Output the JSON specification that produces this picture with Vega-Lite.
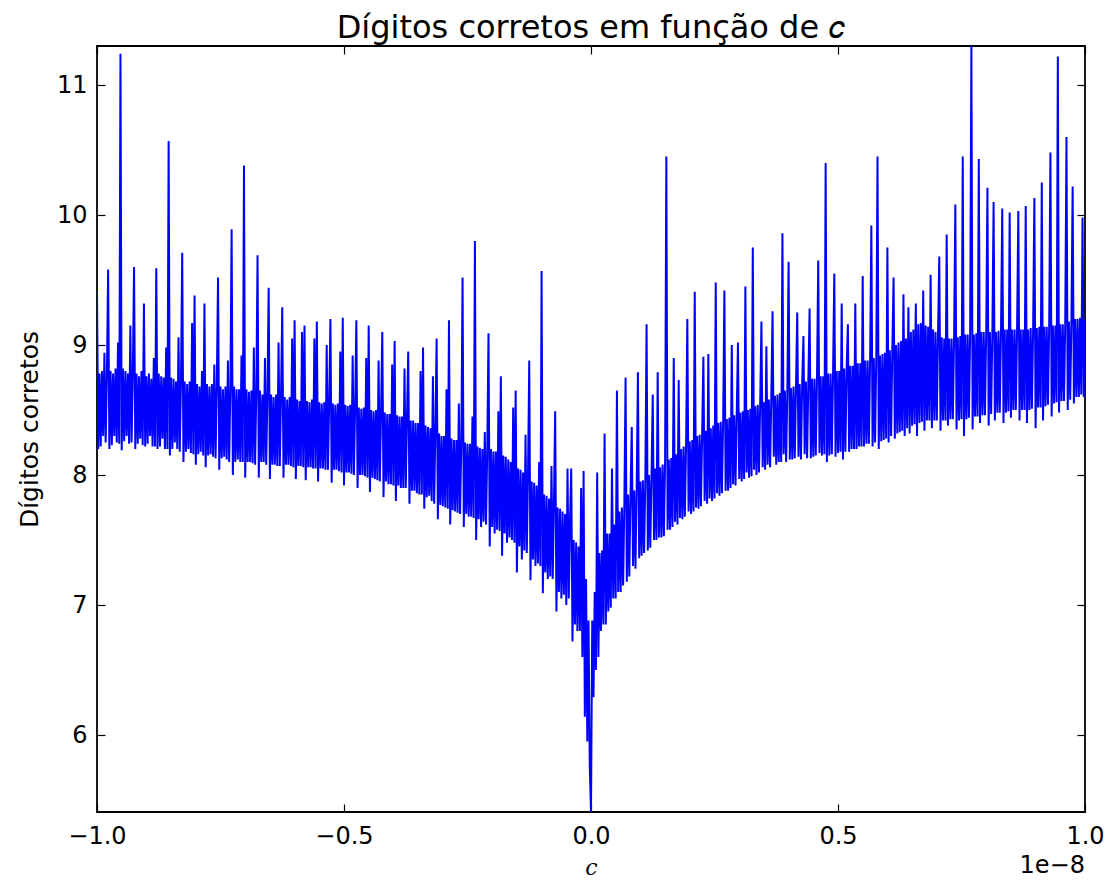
{
  "$schema": "https://vega.github.io/schema/vega-lite/v6.json",
  "width": 988,
  "height": 766,
  "autosize": "none",
  "padding": {"left": 97, "top": 46, "right": 25, "bottom": 71},
  "background": "white",
  "title": {"text": "Dígitos corretos em função de 𝑐", "font": "DejaVu Sans", "fontSize": 32, "fontWeight": "normal", "color": "black", "anchor": "middle", "offset": -2},
  "config": {
    "view": {"stroke": "black", "strokeWidth": 1.8},
    "axis": {"grid": false, "domain": false, "tickColor": "black", "tickWidth": 1.2, "tickSize": -8, "labelFont": "DejaVu Sans", "labelFontSize": 24, "labelColor": "black", "titleColor": "black", "labelFlush": false, "labelOverlap": false}
  },
  "data": {"values": [
{"c":-1.0,"d":9.42},{"c":-0.9975,"d":8.2},{"c":-0.995,"d":8.78},{"c":-0.9925,"d":8.22},{"c":-0.99,"d":8.8},{"c":-0.9875,"d":8.3},{"c":-0.985,"d":8.94},{"c":-0.9825,"d":8.25},{"c":-0.98,"d":8.76},
{"c":-0.9775,"d":9.58},{"c":-0.975,"d":8.2},{"c":-0.9725,"d":8.8},{"c":-0.97,"d":8.23},{"c":-0.9675,"d":8.78},{"c":-0.965,"d":8.3},{"c":-0.9625,"d":8.82},{"c":-0.96,"d":8.25},{"c":-0.9575,"d":9.02},{"c":-0.955,"d":8.24},
{"c":-0.9525,"d":11.24},{"c":-0.95,"d":8.19},{"c":-0.9475,"d":8.82},{"c":-0.945,"d":8.26},{"c":-0.9425,"d":8.8},{"c":-0.94,"d":8.3},{"c":-0.9375,"d":8.78},{"c":-0.935,"d":8.24},{"c":-0.9325,"d":9.15},{"c":-0.93,"d":8.25},{"c":-0.9275,"d":8.78},
{"c":-0.925,"d":9.6},{"c":-0.9225,"d":8.2},{"c":-0.92,"d":8.78},{"c":-0.9175,"d":8.24},{"c":-0.915,"d":8.76},{"c":-0.9125,"d":8.28},{"c":-0.91,"d":8.8},{"c":-0.9075,"d":8.23},
{"c":-0.905,"d":9.32},{"c":-0.9025,"d":8.22},{"c":-0.9,"d":8.76},{"c":-0.8975,"d":8.24},{"c":-0.895,"d":8.78},{"c":-0.8925,"d":8.3},{"c":-0.89,"d":8.74},{"c":-0.8875,"d":8.22},{"c":-0.885,"d":8.9},{"c":-0.8825,"d":8.22},
{"c":-0.88,"d":9.59},{"c":-0.8775,"d":8.2},{"c":-0.875,"d":8.78},{"c":-0.8725,"d":8.22},{"c":-0.87,"d":8.76},{"c":-0.8675,"d":8.28},{"c":-0.865,"d":8.75},{"c":-0.8625,"d":8.2},{"c":-0.86,"d":8.98},{"c":-0.8575,"d":8.2},
{"c":-0.855,"d":10.57},{"c":-0.8525,"d":8.15},{"c":-0.85,"d":8.75},{"c":-0.8475,"d":8.2},{"c":-0.845,"d":8.74},{"c":-0.8425,"d":8.25},{"c":-0.84,"d":8.72},{"c":-0.8375,"d":8.2},{"c":-0.835,"d":9.06},{"c":-0.8325,"d":8.18},{"c":-0.83,"d":8.72},
{"c":-0.8275,"d":9.71},{"c":-0.825,"d":8.1},{"c":-0.8225,"d":8.72},{"c":-0.82,"d":8.18},{"c":-0.8175,"d":8.7},{"c":-0.815,"d":8.2},{"c":-0.8125,"d":8.72},{"c":-0.81,"d":8.17},{"c":-0.8075,"d":9.17},{"c":-0.805,"d":8.16},
{"c":-0.8025,"d":9.38},{"c":-0.8,"d":8.08},{"c":-0.7975,"d":8.7},{"c":-0.795,"d":8.16},{"c":-0.7925,"d":8.68},{"c":-0.79,"d":8.18},{"c":-0.7875,"d":8.8},{"c":-0.785,"d":8.15},
{"c":-0.7825,"d":9.32},{"c":-0.78,"d":8.06},{"c":-0.7775,"d":8.7},{"c":-0.775,"d":8.15},{"c":-0.7725,"d":8.68},{"c":-0.77,"d":8.16},{"c":-0.7675,"d":8.7},{"c":-0.765,"d":8.14},{"c":-0.7625,"d":8.85},{"c":-0.76,"d":8.13},{"c":-0.7575,"d":8.68},
{"c":-0.755,"d":9.52},{"c":-0.7525,"d":8.04},{"c":-0.75,"d":8.68},{"c":-0.7475,"d":8.13},{"c":-0.745,"d":8.66},{"c":-0.7425,"d":8.14},{"c":-0.74,"d":8.68},{"c":-0.7375,"d":8.12},{"c":-0.735,"d":8.88},{"c":-0.7325,"d":8.1},{"c":-0.73,"d":8.66},
{"c":-0.7275,"d":9.89},{"c":-0.725,"d":8.0},{"c":-0.7225,"d":8.68},{"c":-0.72,"d":8.1},{"c":-0.7175,"d":8.66},{"c":-0.715,"d":8.12},{"c":-0.7125,"d":8.66},{"c":-0.71,"d":8.1},{"c":-0.7075,"d":8.92},{"c":-0.705,"d":8.1},
{"c":-0.7025,"d":10.38},{"c":-0.7,"d":7.98},{"c":-0.6975,"d":8.66},{"c":-0.695,"d":8.1},{"c":-0.6925,"d":8.64},{"c":-0.69,"d":8.1},{"c":-0.6875,"d":8.65},{"c":-0.685,"d":8.09},{"c":-0.6825,"d":8.98},{"c":-0.68,"d":8.08},{"c":-0.6775,"d":8.64},
{"c":-0.675,"d":9.69},{"c":-0.6725,"d":7.98},{"c":-0.67,"d":8.65},{"c":-0.6675,"d":8.1},{"c":-0.665,"d":8.62},{"c":-0.6625,"d":8.1},{"c":-0.66,"d":8.9},{"c":-0.6575,"d":8.08},{"c":-0.655,"d":8.62},
{"c":-0.6525,"d":9.44},{"c":-0.65,"d":7.97},{"c":-0.6475,"d":8.62},{"c":-0.645,"d":8.08},{"c":-0.6425,"d":8.6},{"c":-0.64,"d":8.08},{"c":-0.6375,"d":8.62},{"c":-0.635,"d":8.07},{"c":-0.6325,"d":9.02},{"c":-0.63,"d":8.07},{"c":-0.6275,"d":8.6},
{"c":-0.625,"d":9.29},{"c":-0.6225,"d":7.98},{"c":-0.62,"d":8.6},{"c":-0.6175,"d":8.08},{"c":-0.615,"d":8.58},{"c":-0.6125,"d":8.08},{"c":-0.61,"d":8.6},{"c":-0.6075,"d":8.07},{"c":-0.605,"d":9.05},{"c":-0.6025,"d":8.06},
{"c":-0.6,"d":9.19},{"c":-0.5975,"d":7.97},{"c":-0.595,"d":8.58},{"c":-0.5925,"d":8.07},{"c":-0.59,"d":8.57},{"c":-0.5875,"d":8.07},{"c":-0.585,"d":9.1},{"c":-0.5825,"d":8.06},
{"c":-0.58,"d":9.15},{"c":-0.5775,"d":7.96},{"c":-0.575,"d":8.57},{"c":-0.5725,"d":8.06},{"c":-0.57,"d":8.56},{"c":-0.5675,"d":8.06},{"c":-0.565,"d":8.58},{"c":-0.5625,"d":8.05},{"c":-0.56,"d":9.05},{"c":-0.5575,"d":8.05},
{"c":-0.555,"d":9.18},{"c":-0.5525,"d":7.95},{"c":-0.55,"d":8.56},{"c":-0.5475,"d":8.05},{"c":-0.545,"d":8.55},{"c":-0.5425,"d":8.05},{"c":-0.54,"d":8.56},{"c":-0.5375,"d":8.04},{"c":-0.535,"d":9.0},{"c":-0.5325,"d":8.04},{"c":-0.53,"d":8.55},
{"c":-0.5275,"d":9.2},{"c":-0.525,"d":7.94},{"c":-0.5225,"d":8.55},{"c":-0.52,"d":8.04},{"c":-0.5175,"d":8.54},{"c":-0.515,"d":8.04},{"c":-0.5125,"d":8.55},{"c":-0.51,"d":8.03},{"c":-0.5075,"d":8.95},{"c":-0.505,"d":8.02},
{"c":-0.5025,"d":9.21},{"c":-0.5,"d":7.92},{"c":-0.4975,"d":8.54},{"c":-0.495,"d":8.02},{"c":-0.4925,"d":8.53},{"c":-0.49,"d":8.02},{"c":-0.4875,"d":8.54},{"c":-0.485,"d":8.01},{"c":-0.4825,"d":8.92},{"c":-0.48,"d":8.0},{"c":-0.4775,"d":8.52},
{"c":-0.475,"d":9.19},{"c":-0.4725,"d":7.9},{"c":-0.47,"d":8.52},{"c":-0.4675,"d":8.0},{"c":-0.465,"d":8.51},{"c":-0.4625,"d":8.0},{"c":-0.46,"d":8.52},{"c":-0.4575,"d":7.99},{"c":-0.455,"d":8.9},{"c":-0.4525,"d":7.98},
{"c":-0.45,"d":9.15},{"c":-0.4475,"d":7.87},{"c":-0.445,"d":8.5},{"c":-0.4425,"d":7.98},{"c":-0.44,"d":8.49},{"c":-0.4375,"d":7.97},{"c":-0.435,"d":8.5},{"c":-0.4325,"d":7.96},{"c":-0.43,"d":8.88},{"c":-0.4275,"d":7.95},{"c":-0.425,"d":8.48},
{"c":-0.4225,"d":9.1},{"c":-0.42,"d":7.83},{"c":-0.4175,"d":8.48},{"c":-0.415,"d":7.95},{"c":-0.4125,"d":8.47},{"c":-0.41,"d":7.93},{"c":-0.4075,"d":8.47},{"c":-0.405,"d":7.93},{"c":-0.4025,"d":8.85},{"c":-0.4,"d":7.92},
{"c":-0.3975,"d":9.03},{"c":-0.395,"d":7.8},{"c":-0.3925,"d":8.46},{"c":-0.39,"d":7.92},{"c":-0.3875,"d":8.45},{"c":-0.385,"d":7.9},{"c":-0.3825,"d":8.45},{"c":-0.38,"d":7.9},{"c":-0.3775,"d":8.82},{"c":-0.375,"d":7.9},{"c":-0.3725,"d":8.44},
{"c":-0.37,"d":8.95},{"c":-0.3675,"d":7.78},{"c":-0.365,"d":8.42},{"c":-0.3625,"d":7.88},{"c":-0.36,"d":8.42},{"c":-0.3575,"d":7.88},{"c":-0.355,"d":8.4},{"c":-0.3525,"d":7.86},{"c":-0.35,"d":8.4},{"c":-0.3475,"d":7.85},{"c":-0.345,"d":8.8},{"c":-0.3425,"d":7.85},
{"c":-0.34,"d":8.98},{"c":-0.3375,"d":7.74},{"c":-0.335,"d":8.38},{"c":-0.3325,"d":7.83},{"c":-0.33,"d":8.37},{"c":-0.3275,"d":7.84},{"c":-0.325,"d":8.36},{"c":-0.3225,"d":7.8},{"c":-0.32,"d":8.76},{"c":-0.3175,"d":7.78},{"c":-0.315,"d":8.34},
{"c":-0.3125,"d":9.05},{"c":-0.31,"d":7.66},{"c":-0.3075,"d":8.32},{"c":-0.305,"d":7.77},{"c":-0.3025,"d":8.3},{"c":-0.3,"d":7.76},{"c":-0.2975,"d":8.3},{"c":-0.295,"d":7.75},{"c":-0.2925,"d":8.66},{"c":-0.29,"d":7.74},
{"c":-0.2875,"d":9.19},{"c":-0.285,"d":7.62},{"c":-0.2825,"d":8.28},{"c":-0.28,"d":7.73},{"c":-0.2775,"d":8.27},{"c":-0.275,"d":7.72},{"c":-0.2725,"d":8.27},{"c":-0.27,"d":7.71},{"c":-0.2675,"d":8.55},{"c":-0.265,"d":7.7},{"c":-0.2625,"d":8.25},
{"c":-0.26,"d":9.52},{"c":-0.2575,"d":7.6},{"c":-0.255,"d":8.25},{"c":-0.2525,"d":7.7},{"c":-0.25,"d":8.24},{"c":-0.2475,"d":7.68},{"c":-0.245,"d":8.24},{"c":-0.2425,"d":7.68},{"c":-0.24,"d":8.45},{"c":-0.2375,"d":7.67},
{"c":-0.235,"d":9.8},{"c":-0.2325,"d":7.5},{"c":-0.23,"d":8.22},{"c":-0.2275,"d":7.66},{"c":-0.225,"d":8.21},{"c":-0.2225,"d":7.6},{"c":-0.22,"d":8.2},{"c":-0.2175,"d":7.64},{"c":-0.215,"d":8.33},{"c":-0.2125,"d":7.62},{"c":-0.21,"d":8.2},
{"c":-0.2075,"d":9.09},{"c":-0.205,"d":7.45},{"c":-0.2025,"d":8.2},{"c":-0.2,"d":7.6},{"c":-0.1975,"d":8.18},{"c":-0.195,"d":7.55},{"c":-0.1925,"d":8.18},{"c":-0.19,"d":7.58},{"c":-0.1875,"d":8.49},{"c":-0.185,"d":7.57},
{"c":-0.1825,"d":8.76},{"c":-0.18,"d":7.38},{"c":-0.1775,"d":8.15},{"c":-0.175,"d":7.55},{"c":-0.1725,"d":8.14},{"c":-0.17,"d":7.48},{"c":-0.1675,"d":8.12},{"c":-0.165,"d":7.52},{"c":-0.1625,"d":8.1},{"c":-0.16,"d":7.5},{"c":-0.1575,"d":8.52},{"c":-0.155,"d":7.48},
{"c":-0.1525,"d":8.65},{"c":-0.15,"d":7.25},{"c":-0.1475,"d":8.05},{"c":-0.145,"d":7.45},{"c":-0.1425,"d":8.04},{"c":-0.14,"d":7.35},{"c":-0.1375,"d":8.02},{"c":-0.135,"d":7.42},{"c":-0.1325,"d":8.31},{"c":-0.13,"d":7.4},{"c":-0.1275,"d":8.0},
{"c":-0.125,"d":8.88},{"c":-0.1225,"d":7.19},{"c":-0.12,"d":7.95},{"c":-0.1175,"d":7.35},{"c":-0.115,"d":7.94},{"c":-0.1125,"d":7.3},{"c":-0.11,"d":7.92},{"c":-0.1075,"d":7.32},{"c":-0.105,"d":8.1},{"c":-0.1025,"d":7.3},
{"c":-0.1,"d":9.57},{"c":-0.0975,"d":7.09},{"c":-0.095,"d":7.85},{"c":-0.0925,"d":7.25},{"c":-0.09,"d":7.84},{"c":-0.0875,"d":7.2},{"c":-0.085,"d":7.82},{"c":-0.0825,"d":7.22},{"c":-0.08,"d":8.07},{"c":-0.0775,"d":7.2},{"c":-0.075,"d":7.8},
{"c":-0.0725,"d":8.49},{"c":-0.07,"d":6.95},{"c":-0.0675,"d":7.75},{"c":-0.065,"d":7.1},{"c":-0.0625,"d":7.74},{"c":-0.06,"d":7.05},{"c":-0.0575,"d":7.72},{"c":-0.055,"d":7.08},{"c":-0.0525,"d":7.7},{"c":-0.05,"d":7.0},{"c":-0.0475,"d":8.05},{"c":-0.045,"d":7.05},{"c":-0.0425,"d":7.65},
{"c":-0.04,"d":8.05},{"c":-0.0375,"d":6.72},{"c":-0.035,"d":7.5},{"c":-0.0325,"d":6.85},{"c":-0.03,"d":7.48},{"c":-0.0275,"d":6.8},{"c":-0.025,"d":7.45},{"c":-0.0225,"d":6.8},{"c":-0.02,"d":7.9},{"c":-0.0175,"d":6.6},
{"c":-0.015,"d":8.03},{"c":-0.0125,"d":6.14},{"c":-0.01,"d":7.2},{"c":-0.0075,"d":5.95},{"c":-0.005,"d":6.88},{"c":-0.0025,"d":5.75},
{"c":0.0,"d":5.408},{"c":0.0025,"d":6.88},{"c":0.005,"d":6.29},{"c":0.0075,"d":7.1},{"c":0.01,"d":6.5},
{"c":0.0125,"d":8.02},{"c":0.015,"d":6.6},{"c":0.0175,"d":7.4},{"c":0.02,"d":6.8},{"c":0.0225,"d":7.42},{"c":0.025,"d":6.85},
{"c":0.0275,"d":8.32},{"c":0.03,"d":6.85},{"c":0.0325,"d":7.55},{"c":0.035,"d":6.95},{"c":0.0375,"d":7.55},{"c":0.04,"d":6.98},
{"c":0.0425,"d":8.05},{"c":0.045,"d":7.05},{"c":0.0475,"d":7.62},{"c":0.05,"d":7.05},
{"c":0.0525,"d":8.65},{"c":0.055,"d":7.1},{"c":0.0575,"d":7.72},{"c":0.06,"d":7.1},{"c":0.0625,"d":7.75},{"c":0.065,"d":7.15},{"c":0.0675,"d":7.78},
{"c":0.07,"d":8.75},{"c":0.0725,"d":7.18},{"c":0.075,"d":7.85},{"c":0.0775,"d":7.22},{"c":0.08,"d":7.86},
{"c":0.0825,"d":8.37},{"c":0.085,"d":7.3},{"c":0.0875,"d":7.88},{"c":0.09,"d":7.28},{"c":0.0925,"d":7.9},
{"c":0.095,"d":8.79},{"c":0.0975,"d":7.36},{"c":0.1,"d":7.95},{"c":0.1025,"d":7.38},{"c":0.105,"d":7.96},{"c":0.1075,"d":7.4},{"c":0.11,"d":7.97},
{"c":0.1125,"d":9.16},{"c":0.115,"d":7.42},{"c":0.1175,"d":8.0},{"c":0.12,"d":7.44},{"c":0.1225,"d":8.0},
{"c":0.125,"d":8.62},{"c":0.1275,"d":7.5},{"c":0.13,"d":8.05},{"c":0.1325,"d":7.5},
{"c":0.135,"d":8.79},{"c":0.1375,"d":7.52},{"c":0.14,"d":8.06},{"c":0.1425,"d":7.52},{"c":0.145,"d":8.08},{"c":0.1475,"d":7.53},{"c":0.15,"d":8.1},
{"c":0.1525,"d":10.45},{"c":0.155,"d":7.58},{"c":0.1575,"d":8.12},{"c":0.16,"d":7.58},{"c":0.1625,"d":8.13},{"c":0.165,"d":7.6},
{"c":0.1675,"d":8.9},{"c":0.17,"d":7.64},{"c":0.1725,"d":8.16},{"c":0.175,"d":7.62},
{"c":0.1775,"d":8.73},{"c":0.18,"d":7.67},{"c":0.1825,"d":8.2},{"c":0.185,"d":7.66},{"c":0.1875,"d":8.22},{"c":0.19,"d":7.68},{"c":0.1925,"d":8.24},
{"c":0.195,"d":9.2},{"c":0.1975,"d":7.72},{"c":0.2,"d":8.26},{"c":0.2025,"d":7.7},{"c":0.205,"d":8.27},{"c":0.2075,"d":7.72},
{"c":0.21,"d":9.41},{"c":0.2125,"d":7.75},{"c":0.215,"d":8.3},{"c":0.2175,"d":7.74},{"c":0.22,"d":8.31},{"c":0.2225,"d":7.76},{"c":0.225,"d":8.32},
{"c":0.2275,"d":8.91},{"c":0.23,"d":7.8},{"c":0.2325,"d":8.34},{"c":0.235,"d":7.78},
{"c":0.2375,"d":8.93},{"c":0.24,"d":7.82},{"c":0.2425,"d":8.36},{"c":0.245,"d":7.8},{"c":0.2475,"d":8.38},{"c":0.25,"d":7.82},
{"c":0.2525,"d":9.48},{"c":0.255,"d":7.86},{"c":0.2575,"d":8.4},{"c":0.26,"d":7.84},{"c":0.2625,"d":8.41},{"c":0.265,"d":7.86},{"c":0.2675,"d":8.42},
{"c":0.27,"d":9.42},{"c":0.2725,"d":7.88},{"c":0.275,"d":8.43},{"c":0.2775,"d":7.88},{"c":0.28,"d":8.44},{"c":0.2825,"d":7.9},
{"c":0.285,"d":9.0},{"c":0.2875,"d":7.93},{"c":0.29,"d":8.46},{"c":0.2925,"d":7.92},{"c":0.295,"d":8.47},
{"c":0.2975,"d":9.02},{"c":0.3,"d":7.97},{"c":0.3025,"d":8.48},{"c":0.305,"d":7.95},{"c":0.3075,"d":8.49},{"c":0.31,"d":7.97},
{"c":0.3125,"d":9.45},{"c":0.315,"d":8.02},{"c":0.3175,"d":8.5},{"c":0.32,"d":7.98},{"c":0.3225,"d":8.51},{"c":0.325,"d":7.99},
{"c":0.3275,"d":9.75},{"c":0.33,"d":8.04},{"c":0.3325,"d":8.53},{"c":0.335,"d":8.0},{"c":0.3375,"d":8.54},{"c":0.34,"d":8.02},{"c":0.3425,"d":8.55},
{"c":0.345,"d":9.18},{"c":0.3475,"d":8.06},{"c":0.35,"d":8.56},{"c":0.3525,"d":8.04},
{"c":0.355,"d":8.99},{"c":0.3575,"d":8.08},{"c":0.36,"d":8.58},{"c":0.3625,"d":8.06},{"c":0.365,"d":8.6},
{"c":0.3675,"d":9.26},{"c":0.37,"d":8.14},{"c":0.3725,"d":8.61},{"c":0.375,"d":8.08},{"c":0.3775,"d":8.62},{"c":0.38,"d":8.1},{"c":0.3825,"d":8.63},{"c":0.385,"d":8.1},
{"c":0.3875,"d":9.86},{"c":0.39,"d":8.16},{"c":0.3925,"d":8.65},{"c":0.395,"d":8.1},{"c":0.3975,"d":8.66},
{"c":0.4,"d":9.64},{"c":0.4025,"d":8.12},{"c":0.405,"d":8.67},{"c":0.4075,"d":8.12},{"c":0.41,"d":8.68},{"c":0.4125,"d":8.13},{"c":0.415,"d":8.69},
{"c":0.4175,"d":9.25},{"c":0.42,"d":8.14},{"c":0.4225,"d":8.7},{"c":0.425,"d":8.12},{"c":0.4275,"d":8.71},
{"c":0.43,"d":9.07},{"c":0.4325,"d":8.16},{"c":0.435,"d":8.72},{"c":0.4375,"d":8.13},{"c":0.44,"d":8.73},
{"c":0.4425,"d":9.28},{"c":0.445,"d":8.13},{"c":0.4475,"d":8.74},{"c":0.45,"d":8.14},{"c":0.4525,"d":8.74},{"c":0.455,"d":8.15},{"c":0.4575,"d":8.75},
{"c":0.46,"d":9.65},{"c":0.4625,"d":8.17},{"c":0.465,"d":8.76},{"c":0.4675,"d":8.15},{"c":0.47,"d":8.76},{"c":0.4725,"d":8.16},
{"c":0.475,"d":10.4},{"c":0.4775,"d":8.1},{"c":0.48,"d":8.78},{"c":0.4825,"d":8.15},{"c":0.485,"d":8.78},{"c":0.4875,"d":8.16},{"c":0.49,"d":8.79},
{"c":0.4925,"d":9.55},{"c":0.495,"d":8.14},{"c":0.4975,"d":8.8},{"c":0.5,"d":8.17},{"c":0.5025,"d":8.8},{"c":0.505,"d":8.18},
{"c":0.5075,"d":9.32},{"c":0.51,"d":8.12},{"c":0.5125,"d":8.82},{"c":0.515,"d":8.18},{"c":0.5175,"d":8.82},
{"c":0.52,"d":9.16},{"c":0.5225,"d":8.18},{"c":0.525,"d":8.84},{"c":0.5275,"d":8.2},{"c":0.53,"d":8.84},{"c":0.5325,"d":8.2},
{"c":0.535,"d":9.32},{"c":0.5375,"d":8.2},{"c":0.54,"d":8.86},{"c":0.5425,"d":8.22},{"c":0.545,"d":8.86},{"c":0.5475,"d":8.22},
{"c":0.55,"d":9.53},{"c":0.5525,"d":8.22},{"c":0.555,"d":8.88},{"c":0.5575,"d":8.24},{"c":0.56,"d":8.88},{"c":0.5625,"d":8.24},{"c":0.565,"d":8.89},
{"c":0.5675,"d":9.92},{"c":0.57,"d":8.22},{"c":0.5725,"d":8.9},{"c":0.575,"d":8.25},{"c":0.5775,"d":8.9},
{"c":0.58,"d":10.45},{"c":0.5825,"d":8.2},{"c":0.585,"d":8.92},{"c":0.5875,"d":8.26},{"c":0.59,"d":8.93},{"c":0.5925,"d":8.27},{"c":0.595,"d":8.94},{"c":0.5975,"d":8.28},
{"c":0.6,"d":9.75},{"c":0.6025,"d":8.25},{"c":0.605,"d":8.96},{"c":0.6075,"d":8.3},{"c":0.61,"d":8.98},
{"c":0.6125,"d":9.52},{"c":0.615,"d":8.28},{"c":0.6175,"d":9.0},{"c":0.62,"d":8.32},{"c":0.6225,"d":9.02},{"c":0.625,"d":8.33},{"c":0.6275,"d":9.03},{"c":0.63,"d":8.34},
{"c":0.6325,"d":9.39},{"c":0.635,"d":8.3},{"c":0.6375,"d":9.05},{"c":0.64,"d":8.36},
{"c":0.6425,"d":9.29},{"c":0.645,"d":8.32},{"c":0.6475,"d":9.1},{"c":0.65,"d":8.38},{"c":0.6525,"d":9.12},{"c":0.655,"d":8.39},
{"c":0.6575,"d":9.32},{"c":0.66,"d":8.3},{"c":0.6625,"d":9.16},{"c":0.665,"d":8.4},{"c":0.6675,"d":9.17},{"c":0.67,"d":8.41},
{"c":0.6725,"d":9.42},{"c":0.675,"d":8.34},{"c":0.6775,"d":9.15},{"c":0.68,"d":8.42},{"c":0.6825,"d":9.14},{"c":0.685,"d":8.42},
{"c":0.6875,"d":9.54},{"c":0.69,"d":8.36},{"c":0.6925,"d":9.12},{"c":0.695,"d":8.42},{"c":0.6975,"d":9.1},{"c":0.7,"d":8.42},{"c":0.7025,"d":9.08},
{"c":0.705,"d":9.68},{"c":0.7075,"d":8.34},{"c":0.71,"d":9.06},{"c":0.7125,"d":8.42},{"c":0.715,"d":9.05},{"c":0.7175,"d":8.42},
{"c":0.72,"d":9.85},{"c":0.7225,"d":8.38},{"c":0.725,"d":9.05},{"c":0.7275,"d":8.43},{"c":0.73,"d":9.05},{"c":0.7325,"d":8.43},{"c":0.735,"d":9.06},
{"c":0.7375,"d":10.08},{"c":0.74,"d":8.35},{"c":0.7425,"d":9.06},{"c":0.745,"d":8.42},{"c":0.7475,"d":9.07},{"c":0.75,"d":8.43},
{"c":0.7525,"d":10.45},{"c":0.755,"d":8.3},{"c":0.7575,"d":9.08},{"c":0.76,"d":8.43},{"c":0.7625,"d":9.08},{"c":0.765,"d":8.44},{"c":0.7675,"d":9.08},
{"c":0.77,"d":11.3},{"c":0.7725,"d":8.35},{"c":0.775,"d":9.08},{"c":0.7775,"d":8.45},{"c":0.78,"d":9.09},{"c":0.7825,"d":8.45},
{"c":0.785,"d":10.43},{"c":0.7875,"d":8.4},{"c":0.79,"d":9.1},{"c":0.7925,"d":8.46},{"c":0.795,"d":9.1},{"c":0.7975,"d":8.46},{"c":0.8,"d":9.1},
{"c":0.8025,"d":10.21},{"c":0.805,"d":8.38},{"c":0.8075,"d":9.1},{"c":0.81,"d":8.47},{"c":0.8125,"d":9.1},
{"c":0.815,"d":10.1},{"c":0.8175,"d":8.42},{"c":0.82,"d":9.1},{"c":0.8225,"d":8.48},{"c":0.825,"d":9.11},{"c":0.8275,"d":8.48},{"c":0.83,"d":9.11},
{"c":0.8325,"d":10.05},{"c":0.835,"d":8.4},{"c":0.8375,"d":9.12},{"c":0.84,"d":8.48},{"c":0.8425,"d":9.12},{"c":0.845,"d":8.49},
{"c":0.8475,"d":10.02},{"c":0.85,"d":8.44},{"c":0.8525,"d":9.12},{"c":0.855,"d":8.5},{"c":0.8575,"d":9.12},{"c":0.86,"d":8.5},{"c":0.8625,"d":9.12},
{"c":0.865,"d":10.03},{"c":0.8675,"d":8.42},{"c":0.87,"d":9.12},{"c":0.8725,"d":8.5},{"c":0.875,"d":9.12},{"c":0.8775,"d":8.5},
{"c":0.88,"d":10.07},{"c":0.8825,"d":8.4},{"c":0.885,"d":9.12},{"c":0.8875,"d":8.5},{"c":0.89,"d":9.13},{"c":0.8925,"d":8.51},{"c":0.895,"d":9.13},
{"c":0.8975,"d":10.13},{"c":0.9,"d":8.36},{"c":0.9025,"d":9.13},{"c":0.905,"d":8.52},{"c":0.9075,"d":9.14},{"c":0.91,"d":8.52},
{"c":0.9125,"d":10.25},{"c":0.915,"d":8.42},{"c":0.9175,"d":9.14},{"c":0.92,"d":8.53},{"c":0.9225,"d":9.14},{"c":0.925,"d":8.54},{"c":0.9275,"d":9.15},
{"c":0.93,"d":10.48},{"c":0.9325,"d":8.45},{"c":0.935,"d":9.15},{"c":0.9375,"d":8.55},{"c":0.94,"d":9.15},{"c":0.9425,"d":8.56},
{"c":0.945,"d":11.22},{"c":0.9475,"d":8.48},{"c":0.95,"d":9.16},{"c":0.9525,"d":8.57},{"c":0.955,"d":9.16},{"c":0.9575,"d":8.57},{"c":0.96,"d":9.17},
{"c":0.9625,"d":10.6},{"c":0.965,"d":8.5},{"c":0.9675,"d":9.18},{"c":0.97,"d":8.58},{"c":0.9725,"d":9.18},
{"c":0.975,"d":10.22},{"c":0.9775,"d":8.55},{"c":0.98,"d":9.2},{"c":0.9825,"d":8.6},{"c":0.985,"d":9.2},{"c":0.9875,"d":8.6},{"c":0.99,"d":9.21},{"c":0.9925,"d":8.62},
{"c":0.995,"d":9.98},{"c":0.9975,"d":8.6},{"c":1.0,"d":9.2}
  ]},
  "layer": [
    {
      "mark": {"type": "line", "color": "#0000ff", "strokeWidth": 2, "clip": true},
      "encoding": {
        "x": {"field": "c", "type": "quantitative", "scale": {"domain": [-1, 1], "nice": false, "zero": false},
              "axis": {"orient": "bottom", "values": [-1, -0.5, 0, 0.5, 1], "format": ".1f", "labelPadding": 20, "title": "c", "titleFont": "DejaVu Serif", "titleFontStyle": "italic", "titleFontWeight": "normal", "titleFontSize": 22, "titlePadding": 9}},
        "y": {"field": "d", "type": "quantitative", "scale": {"domain": [5.408, 11.3], "nice": false, "zero": false},
              "axis": {"orient": "left", "values": [6, 7, 8, 9, 10, 11], "format": "d", "labelPadding": 18, "title": "Dígitos corretos", "titleFont": "DejaVu Sans", "titleFontWeight": "normal", "titleFontSize": 25, "titlePadding": 14}}
      }
    },
    {
      "mark": {"type": "point", "opacity": 0},
      "encoding": {
        "x": {"field": "c", "type": "quantitative", "axis": {"orient": "top", "values": [-1, -0.5, 0, 0.5, 1], "labels": false, "title": null}},
        "y": {"field": "d", "type": "quantitative", "axis": {"orient": "right", "values": [6, 7, 8, 9, 10, 11], "labels": false, "title": null}}
      }
    },
    {
      "data": {"values": [{"t": "1e−8"}]},
      "mark": {"type": "text", "align": "right", "baseline": "middle", "dy": 54, "font": "DejaVu Sans", "fontSize": 24, "color": "black"},
      "encoding": {
        "text": {"field": "t"},
        "x": {"datum": 1, "type": "quantitative", "axis": null},
        "y": {"datum": 5.408, "type": "quantitative", "axis": null}
      }
    }
  ],
  "resolve": {"axis": {"x": "independent", "y": "independent"}}
}
